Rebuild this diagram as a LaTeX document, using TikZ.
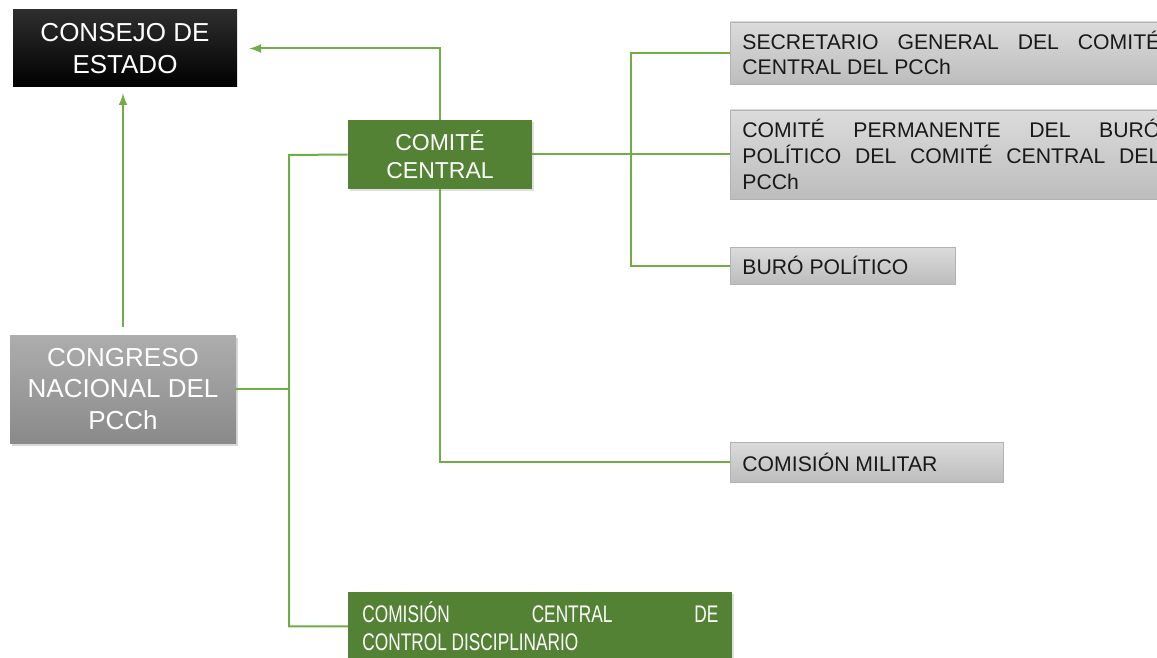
\documentclass[tikz,border=0pt]{standalone}
\usepackage{fontspec}
\setmainfont{Liberation Sans}
\newfontfamily\narrowfont[FakeStretch=0.72]{Liberation Sans}
\usetikzlibrary{calc}
\usetikzlibrary{arrows}
\usetikzlibrary{shadows}

\definecolor{linegreen}{RGB}{112,173,71}
\definecolor{boxgreen}{RGB}{84,130,53}
\tolerance=10000
\hyphenpenalty=10000

\begin{document}
\begin{tikzpicture}[x=0.5pt,y=-0.5pt,
    blackbox/.style={top color=black!82,middle color=black,bottom color=black,text=white,
        align=center,font=\fontsize{13}{16}\selectfont},
    greenbox/.style={fill=boxgreen,text=white,inner sep=0pt,
        drop shadow={opacity=0.25,shadow xshift=1pt,shadow yshift=-1pt}},
    graybox/.style={draw=black!30,top color=black!14,bottom color=black!26,text=black!90,
        anchor=west,inner xsep=6pt,inner ysep=0pt,align=justify,
        font=\fontsize{10.6}{12.8}\selectfont},
    link/.style={draw=linegreen,line width=1pt}]
\useasboundingbox (0,0) rectangle (1157,658);

\coordinate (trunk) at (289,155);
\coordinate (bus) at (631,53);

% left side
\node[blackbox,minimum width=112pt,minimum height=38.5pt] (consejo) at (125,48.5)
    {CONSEJO DE\\ESTADO};
\node[top color=black!32,bottom color=black!46,text=white,align=center,
    minimum width=113pt,minimum height=54pt,font=\fontsize{13}{15.75}\selectfont,
    drop shadow={opacity=0.3,shadow xshift=1pt,shadow yshift=-1.5pt}] (congreso) at (123,389)
    {CONGRESO\\NACIONAL DEL\\PCCh};

% green boxes
\node[greenbox,align=center,minimum width=92pt,minimum height=34.5pt,
    font=\fontsize{11.5}{14}\selectfont] (comite) at (440,154.5) {COMITÉ\\CENTRAL};
\node[greenbox,anchor=north west,inner xsep=7pt,text width=178pt,minimum height=34pt,
    align=justify,font=\narrowfont\fontsize{12}{14}\selectfont] (comision) at (348,592)
    {COMISIÓN CENTRAL DE\linebreak CONTROL DISCIPLINARIO};

% gray boxes
\node[graybox,text width=209pt,minimum height=31pt] (secretario) at (730,53)
    {SECRETARIO GENERAL DEL COMITÉ\linebreak CENTRAL DEL PCCh};
\node[graybox,text width=209pt,minimum height=44.5pt] (permanente) at (730,154.5)
    {COMITÉ PERMANENTE DEL BURÓ\linebreak POLÍTICO DEL COMITÉ CENTRAL DEL\linebreak PCCh};
\node[graybox,text width=100.5pt,minimum height=18.5pt] (buro) at (730,265.5)
    {BURÓ POLÍTICO};
\node[graybox,text width=124.5pt,minimum height=20pt] (militar) at (730,462)
    {COMISIÓN MILITAR};

% connectors
\draw[link,-latex,shorten <=4pt,shorten >=3pt] (congreso.north) -- (congreso.north |- consejo.south);
\draw[link,-latex,shorten >=6pt] (comite.north) |- (consejo.east);
\draw[link] (comite.west) -- (trunk) -- (trunk |- comision.west) -- (comision.west);
\draw[link] (congreso.east) -- (congreso.east -| trunk);
\draw[link] (comite.east) -- (permanente.west);
\draw[link] (secretario.west) -- (bus) -- (bus |- buro.west) -- (buro.west);
\draw[link] (comite.south) |- (militar.west);
\end{tikzpicture}
\end{document}
